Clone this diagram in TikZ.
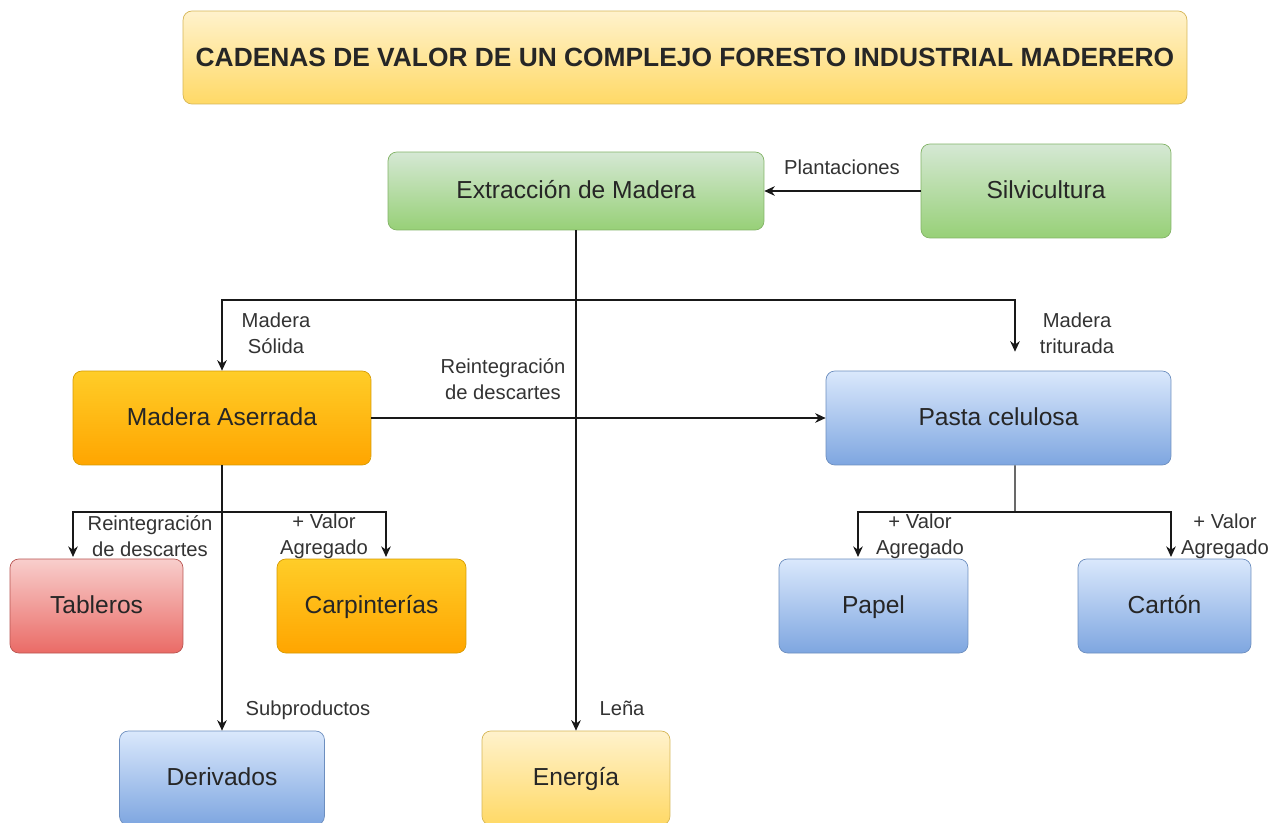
\documentclass[tikz,border=0pt]{standalone}
\usepackage{fontspec}
\setmainfont{Liberation Sans}
\usetikzlibrary{positioning,arrows.meta}

\definecolor{verdeA}{HTML}{D5E8D4}
\definecolor{verdeB}{HTML}{97D077}
\definecolor{verdeL}{HTML}{82B366}
\definecolor{naranjaA}{HTML}{FFCD28}
\definecolor{naranjaB}{HTML}{FFA500}
\definecolor{naranjaL}{HTML}{D79B00}
\definecolor{azulA}{HTML}{DAE8FC}
\definecolor{azulB}{HTML}{7EA6E0}
\definecolor{azulL}{HTML}{6C8EBF}
\definecolor{rojoA}{HTML}{F8CECC}
\definecolor{rojoB}{HTML}{EA6B66}
\definecolor{rojoL}{HTML}{B85450}
\definecolor{amarA}{HTML}{FFF2CC}
\definecolor{amarB}{HTML}{FFD966}
\definecolor{amarL}{HTML}{D6B656}
\definecolor{texto}{HTML}{333333}

\tikzset{
	caja/.style={draw,rounded corners=5pt,align=center,inner sep=0pt,minimum height=1.88cm,text height=11pt,text depth=2pt,text=black!85,font=\fontsize{14}{17}\selectfont},
	verde/.style={caja,draw=verdeL,top color=verdeA,bottom color=verdeB},
	naranja/.style={caja,draw=naranjaL,top color=naranjaA,bottom color=naranjaB},
	azul/.style={caja,draw=azulL,top color=azulA,bottom color=azulB},
	rojo/.style={caja,draw=rojoL,top color=rojoA,bottom color=rojoB},
	amarillo/.style={caja,draw=amarL,top color=amarA,bottom color=amarB},
	etiqueta/.style={align=center,inner sep=0pt,text=texto,font=\fontsize{11.5}{14.7}\selectfont},
	linea/.style={text height=9.5pt,text depth=1.5pt},
	flecha/.style={-{Stealth[length=6pt,width=5.5pt]},line width=0.75pt,black!90}
}

\begin{document}
\begin{tikzpicture}[x=0.02cm,y=-0.02cm]
	\useasboundingbox (0,0) rectangle (1282,822);
	\fill[white] (0,0) rectangle (1282,822);

	\node[amarillo,minimum width=20.08cm,minimum height=1.86cm,text height=12.5pt,text depth=2pt,font=\fontsize{15}{18}\selectfont\bfseries] (titulo) at (685,57.5){CADENAS DE VALOR DE UN COMPLEJO FORESTO INDUSTRIAL MADERERO};

	\node[verde,minimum width=7.52cm,minimum height=1.56cm] (extr) at (576,191){Extracción de Madera};
	\node[verde,minimum width=5cm] (silv) at (1046,191){Silvicultura};
	\node[naranja,minimum width=5.96cm] (aser) at (222,418){Madera Aserrada};
	\node[azul,minimum width=6.9cm] (pasta) at (998.5,418){Pasta celulosa};
	\node[rojo,minimum width=3.46cm] (tabl) at (96.5,606){Tableros};
	\node[naranja,minimum width=3.78cm] (carp) at (371.5,606){Carpinterías};
	\node[azul,minimum width=3.78cm] (papel) at (873.5,606){Papel};
	\node[azul,minimum width=3.46cm] (carton) at (1164.5,606){Cartón};
	\node[azul,minimum width=4.1cm] (deriv) at (222,778){Derivados};
	\node[amarillo,minimum width=3.76cm] (ener) at (576,778){Energía};

	\coordinate (cruce) at (576,300);
	\coordinate (rama1) at (222,512);
	\coordinate (rama2) at (1015,512);

	% desde la extraccion
	\draw[flecha] (silv) -- (extr);
	\draw[flecha] (extr) -- (ener);
	\draw[flecha] (cruce) -| (aser);
	\draw[flecha,shorten >=0.38cm] (cruce) -| ([xshift=0.33cm]pasta.north);

	% madera aserrada
	\draw[flecha] (aser) -- (pasta);
	\draw[flecha] (aser) -- (deriv);
	\draw[flecha,shorten >=1pt] (rama1) -| ([xshift=-0.47cm]tabl.north);
	\draw[flecha,shorten >=1pt] (rama1) -| ([xshift=0.29cm]carp.north);

	% pasta celulosa
	\draw[line width=0.75pt,black!90] ([xshift=0.33cm]pasta.south) -- (rama2);
	\draw[flecha,shorten >=1pt] (rama2) -| ([xshift=-0.31cm]papel.north);
	\draw[flecha,shorten >=1pt] (rama2) -| ([xshift=0.13cm]carton.north);

	\node[etiqueta,linea] (l1) at (842,167){Plantaciones};
	\node[etiqueta] (l2) at (276,333){Madera\\Sólida};
	\node[etiqueta] (l3) at (1077,333){Madera\\triturada};
	\node[etiqueta] (l4) at (503,379){Reintegración\\de descartes};
	\node[etiqueta] (l5) at (150,536){Reintegración\\de descartes};
	\node[etiqueta] (l6) at (324,536){+ Valor\\Agregado};
	\node[etiqueta] (l7) at (920,536){+ Valor\\Agregado};
	\node[etiqueta] (l8) at (1225,536){+ Valor\\Agregado};
	\node[etiqueta,linea] (l9) at (308,708){Subproductos};
	\node[etiqueta,linea] (l10) at (622,708){Leña};
\end{tikzpicture}
\end{document}
